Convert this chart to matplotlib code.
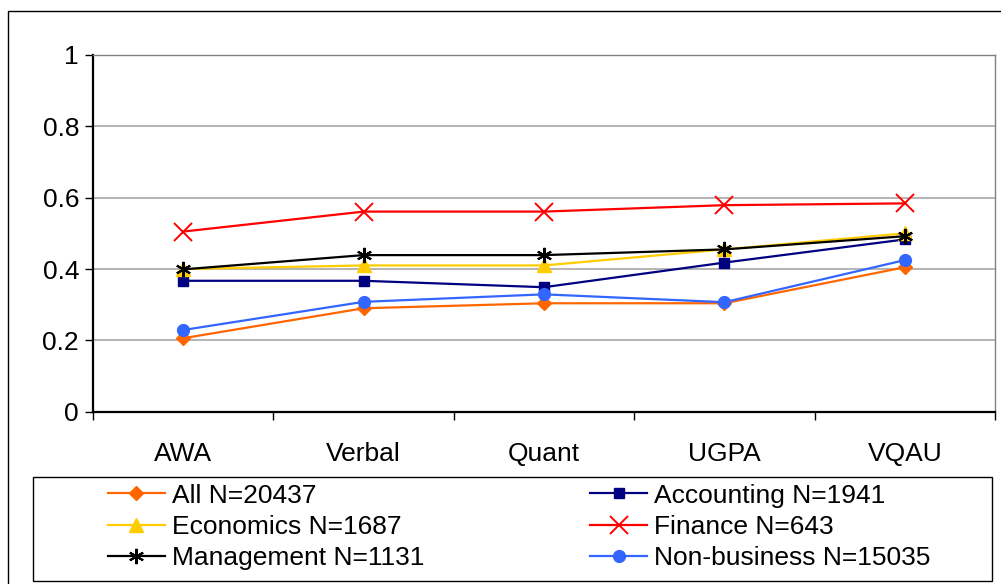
import matplotlib
matplotlib.use("Agg")
import matplotlib.pyplot as plt
from matplotlib.patches import Rectangle

plt.rcParams["font.family"] = ["Liberation Sans", "DejaVu Sans"]

categories = ["AWA", "Verbal", "Quant", "UGPA", "VQAU"]

all_vals = [0.206, 0.290, 0.304, 0.304, 0.405]
accounting = [0.367, 0.367, 0.349, 0.418, 0.483]
economics = [0.400, 0.410, 0.410, 0.455, 0.500]
finance = [0.505, 0.561, 0.561, 0.579, 0.584]
management = [0.399, 0.439, 0.439, 0.455, 0.492]
non_business = [0.229, 0.308, 0.329, 0.307, 0.425]

labels = ["All N=20437", "Accounting N=1941", "Economics N=1687",
          "Finance N=643", "Management N=1131", "Non-business N=15035"]

W, H = 1001, 584
fig = plt.figure(figsize=(W / 100, H / 100), dpi=100)
ax = fig.add_axes([93 / W, 1 - 411.7 / H, (995 - 93) / W, (411.7 - 55) / H])

x = list(range(len(categories)))
styles = [
    (all_vals, "#FF6600", dict(marker="D", markersize=7.5)),
    (accounting, "#000080", dict(marker="s", markersize=7.5)),
    (economics, "#FFCC00", dict(marker="^", markersize=9.5)),
    (finance, "#FF0000", dict(marker="x", markersize=13, markeredgewidth=1.4)),
    (management, "#000000", dict(marker=(6, 2, 0), markersize=11, markeredgewidth=1.5)),
    (non_business, "#3366FF", dict(marker="o", markersize=8.5)),
]
handles = []
for (vals, col, mk), lab in zip(styles, labels):
    h, = ax.plot(x, vals, color=col, lw=1.6, label=lab, markeredgecolor=col,
                 markerfacecolor=col, **mk)
    handles.append(h)

ax.set_xlim(-0.5, 4.5)
ax.set_ylim(0, 1)
ax.set_yticks([0, 0.2, 0.4, 0.6, 0.8, 1])
ax.set_yticklabels(["0", "0.2", "0.4", "0.6", "0.8", "1"], fontsize=19)
ax.set_xticks(x)
ax.set_xticklabels(categories, fontsize=19)
ax.set_xticks([i - 0.5 for i in range(len(categories) + 1)], minor=True)
ax.tick_params(axis="x", which="major", length=0, pad=22)
ax.tick_params(axis="x", which="minor", length=6, direction="out", width=1)
ax.tick_params(axis="y", length=6, direction="out", width=1, pad=4)
for y in [0.2, 0.4, 0.6, 0.8]:
    ax.axhline(y, color="#a0a0a0", lw=1.1, zorder=0)
for s in ["left", "bottom"]:
    ax.spines[s].set_linewidth(1.6)
for s in ["top", "right"]:
    ax.spines[s].set_color("#808080")
    ax.spines[s].set_linewidth(1.0)

# legend: two columns, filled row by row
order = [0, 2, 4, 1, 3, 5]
leg = fig.legend([handles[i] for i in order], [labels[i] for i in order],
                 loc="center left", ncol=2, fontsize=19,
                 bbox_to_anchor=(108 / W, 1 - 527 / H),
                 borderaxespad=0, borderpad=0, frameon=False,
                 handlelength=2.15, handletextpad=0.27,
                 labelspacing=0.28, columnspacing=6.3)
fig.patches.append(Rectangle((33 / W, 1 - 581 / H), (992 - 33) / W, 104 / H,
                             transform=fig.transFigure, fill=False,
                             edgecolor="black", lw=1.0))

# outer chart frame
fig.patches.append(Rectangle((8 / W, -0.05), 1.0, 1 - 11 / H + 0.05,
                             transform=fig.transFigure, fill=False,
                             edgecolor="black", lw=1.0))

fig.savefig("out.png", dpi=100)
